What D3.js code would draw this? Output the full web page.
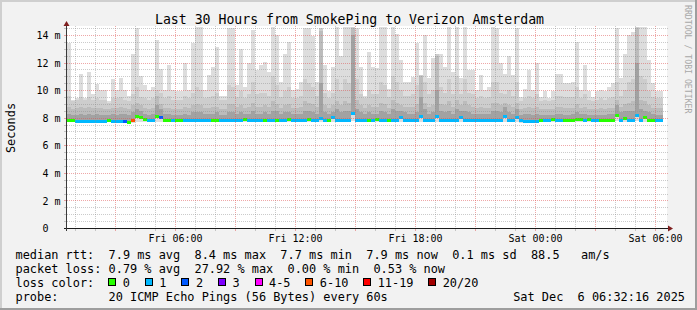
<!DOCTYPE html>
<html><head><meta charset="utf-8">
<script src="https://cdn.jsdelivr.net/npm/d3@7"></script>
<style>
html,body{margin:0;padding:0;background:#f2f2f2;}
svg{display:block;}
text{font-family:"DejaVu Sans Mono",monospace;white-space:pre;}
</style></head><body>
<svg id="c" width="697" height="310"></svg>
<script>
// ---------------- data ----------------
const title = "Last 30 Hours from SmokePing to Verizon Amsterdam";
const yLabel = "Seconds";
const watermark = "RRDTOOL / TOBI OETIKER";
const yTicks = [0, 2, 4, 6, 8, 10, 12, 14];
const xTickHours = ["2025-12-05T06:00Z","2025-12-05T12:00Z","2025-12-05T18:00Z","2025-12-06T00:00Z","2025-12-06T06:00Z"];
const rangeStart = "2025-12-05T00:36Z";
const rangeEnd = "2025-12-06T06:36Z";
const stepMinutes = 12;

const smokeTop = [13.4,9.3,9.45,11.2,9.45,11.3,9.7,10.45,10.0,10.0,
9.2,10.8,10.0,10.85,10.0,9.55,12.65,14.5,11.0,10.4,
10.0,10.25,13.6,11.5,10.0,11.8,10.0,9.9,9.95,11.95,
10.0,13.4,14.55,14.55,10.0,11.1,11.7,13.1,9.6,9.6,
14.5,14.5,10.4,13.0,10.25,11.95,14.35,11.45,11.8,12.05,
11.35,14.6,14.0,10.6,12.65,13.5,10.0,10.1,10.6,14.5,
14.5,13.9,10.6,14.5,11.8,9.9,11.7,14.6,12.5,14.6,
14.6,14.55,14.5,11.7,9.6,12.8,11.7,11.6,14.55,14.55,
10.1,14.55,14.1,12.2,10.6,10.6,10.95,13.4,11.1,14.0,
10.85,12.3,12.65,12.65,11.7,14.55,11.35,14.6,10.85,14.6,
11.45,11.45,10.0,11.1,10.0,10.25,14.55,14.5,11.95,11.2,
12.5,11.1,14.5,9.5,10.1,11.45,10.0,11.95,9.5,9.9,
9.4,9.9,11.2,11.2,10.5,10.5,10.6,13.5,10.0,11.8,
9.9,9.5,9.9,10.0,9.9,10.25,10.5,14.5,10.85,12.65,
14.0,14.25,14.55,14.55,14.55,12.2,10.5,9.9,9.9];
const smokeHi = [9.6,9.2,9.3,9.5,9.3,9.5,9.3,9.4,9.3,9.3,
9.1,9.4,9.4,9.5,9.3,9.2,9.7,10.2,9.5,9.4,
9.3,9.4,10.0,9.8,9.4,9.6,9.3,9.3,9.3,9.6,
9.4,9.8,10.2,10.0,9.4,9.5,9.6,9.8,9.3,9.3,
10.4,10.2,9.5,9.9,9.4,9.7,10.6,9.7,9.8,9.8,
9.6,11.0,10.4,9.5,9.9,10.2,9.4,9.4,9.6,10.8,
10.5,10.2,9.6,14.5,9.8,9.4,9.8,10.8,10.0,10.8,
10.5,14.55,10.8,9.7,9.4,10.0,9.7,9.7,10.6,10.4,
9.5,11.0,10.6,10.0,9.6,9.6,9.7,10.4,11.1,10.6,
9.7,10.0,12.65,10.2,9.8,10.8,9.7,11.0,9.7,10.8,
9.8,9.7,9.4,9.6,9.4,9.5,10.6,10.6,9.8,9.7,
10.0,9.6,10.6,9.2,9.4,9.6,9.4,9.7,9.2,9.3,
9.2,9.3,9.6,9.6,9.5,9.5,9.5,10.2,9.4,9.7,
9.3,9.2,9.3,9.4,9.3,9.4,9.5,10.6,9.6,10.0,
10.6,10.8,14.55,11.0,10.8,9.9,9.5,9.4,9.4];
const smokeMid = [8.8,8.6,8.7,8.8,8.7,8.8,8.7,8.7,8.7,8.6,
8.6,8.7,8.7,8.8,8.7,8.6,8.9,9.1,8.9,8.7,
8.6,8.7,9.6,9.0,8.7,8.7,8.6,8.6,8.6,8.8,
8.7,8.9,9.0,8.9,8.7,8.7,8.8,8.8,8.6,8.6,
9.0,9.0,8.8,8.9,8.7,8.8,9.1,8.8,8.8,8.9,
8.8,9.2,9.0,8.7,8.9,9.0,8.7,8.7,8.8,9.2,
9.1,9.0,8.8,14.3,8.9,8.7,8.9,9.2,8.9,9.2,
9.1,14.5,9.3,8.9,8.7,8.9,8.8,8.8,9.1,9.0,
8.7,9.3,9.1,8.9,8.8,8.8,8.8,9.0,11.0,9.1,
8.8,8.9,12.5,9.0,8.9,9.2,8.8,9.3,8.9,9.2,
8.9,8.8,8.7,8.8,8.7,8.7,9.1,9.1,8.9,9.1,
8.9,8.8,9.1,8.6,8.7,8.8,8.7,8.8,8.6,8.6,
8.6,8.6,8.8,8.8,8.7,8.7,8.7,9.0,8.7,8.8,
8.6,8.6,8.6,8.7,8.6,8.7,8.7,9.3,8.8,9.0,
9.1,9.2,14.5,9.3,9.2,8.9,8.7,8.7,8.7];
const smokeLow = [8.3,8.2,8.2,8.3,8.2,8.3,8.2,8.3,8.2,8.2,
8.2,8.3,8.2,8.3,8.3,8.2,8.4,8.6,8.5,8.3,
8.2,8.3,8.9,8.6,8.3,8.3,8.2,8.2,8.2,8.3,
8.2,8.4,8.4,8.4,8.3,8.3,8.3,8.4,8.2,8.2,
8.4,8.4,8.3,8.4,8.3,8.3,8.5,8.3,8.3,8.4,
8.3,8.5,8.5,8.3,8.4,8.4,8.3,8.3,8.3,8.5,
8.5,8.4,8.3,10.5,8.4,8.3,8.4,8.6,8.4,8.5,
8.5,14.0,8.6,8.4,8.3,8.4,8.3,8.3,8.5,8.4,
8.3,8.6,8.5,8.5,8.4,8.3,8.3,8.4,9.5,8.6,
8.3,8.4,10.0,8.5,8.4,8.5,8.3,8.6,8.5,8.5,
8.4,8.3,8.3,8.3,8.3,8.3,8.5,8.5,8.4,8.8,
8.4,8.3,8.6,8.2,8.3,8.3,8.2,8.3,8.2,8.2,
8.2,8.2,8.3,8.3,8.2,8.2,8.3,8.4,8.3,8.3,
8.2,8.2,8.2,8.2,8.2,8.3,8.3,8.9,8.4,8.5,
8.5,8.5,12.0,8.6,8.5,8.4,8.3,8.2,8.2];
const smokeMin = [7.66,7.66,7.65,7.64,7.64,7.65,7.65,7.64,7.64,7.65,
7.66,7.65,7.64,7.64,7.62,7.58,7.64,7.70,7.70,7.68,
7.67,7.67,7.72,7.70,7.67,7.67,7.66,7.67,7.67,7.66,
7.66,7.66,7.66,7.66,7.66,7.66,7.67,7.67,7.66,7.66,
7.66,7.66,7.66,7.66,7.70,7.66,7.66,7.66,7.66,7.67,
7.66,7.66,7.67,7.66,7.66,7.70,7.66,7.66,7.66,7.66,
7.70,7.66,7.66,7.70,7.66,7.67,7.70,7.66,7.66,7.66,
7.66,7.75,7.66,7.66,7.66,7.67,7.66,7.70,7.66,7.66,
7.67,7.66,7.66,7.70,7.66,7.66,7.66,7.66,7.72,7.66,
7.66,7.66,7.72,7.66,7.66,7.66,7.66,7.66,7.70,7.66,
7.66,7.66,7.66,7.66,7.66,7.66,7.66,7.66,7.66,7.72,
7.66,7.66,7.70,7.65,7.64,7.64,7.64,7.64,7.66,7.66,
7.66,7.70,7.66,7.66,7.66,7.66,7.66,7.70,7.70,7.66,
7.68,7.66,7.66,7.66,7.66,7.66,7.66,7.75,7.66,7.72,
7.66,7.66,7.74,7.66,7.70,7.67,7.67,7.66,7.66];
const median = [7.80,7.80,7.79,7.78,7.78,7.78,7.79,7.78,7.78,7.79,
7.80,7.79,7.78,7.78,7.76,7.70,7.80,8.10,8.02,7.93,
7.82,7.82,8.15,8.06,7.82,7.82,7.81,7.82,7.82,7.81,
7.81,7.80,7.80,7.80,7.81,7.80,7.82,7.82,7.80,7.80,
7.80,7.82,7.80,7.81,7.88,7.81,7.80,7.80,7.80,7.82,
7.81,7.81,7.82,7.81,7.81,7.92,7.81,7.80,7.81,7.81,
7.92,7.81,7.80,7.98,7.80,7.82,8.05,7.81,7.81,7.80,
7.80,8.36,7.81,7.81,7.80,7.82,7.81,7.92,7.81,7.81,
7.82,7.81,7.81,8.02,7.81,7.80,7.80,7.81,8.12,7.81,
7.80,7.81,8.12,7.81,7.80,7.80,7.81,7.81,8.02,7.81,
7.80,7.80,7.80,7.81,7.80,7.80,7.80,7.81,7.80,8.12,
7.80,7.80,8.02,7.80,7.79,7.79,7.79,7.79,7.80,7.80,
7.80,7.92,7.81,7.81,7.80,7.80,7.80,7.92,7.92,7.81,
7.88,7.81,7.80,7.80,7.80,7.80,7.80,8.22,7.81,7.97,
7.81,7.81,8.19,7.81,8.02,7.82,7.82,7.80,7.80];
const lossCount = [0,0,1,1,1,1,1,1,1,1,
0,1,1,1,2,0,8,0,0,0,
1,1,0,2,0,0,1,0,0,1,
1,1,1,1,1,1,0,0,1,1,
1,1,1,1,0,1,1,1,1,0,
1,1,0,1,1,0,1,1,1,1,
0,1,1,1,1,0,1,1,1,1,
1,1,1,1,1,0,1,0,1,1,
0,1,1,1,1,1,1,1,1,1,
1,1,1,1,1,1,1,1,1,1,
1,1,1,1,1,1,1,1,1,1,
1,1,1,1,1,1,1,1,0,1,
1,0,1,1,0,0,0,0,0,1,
0,1,1,0,0,0,0,0,1,0,
1,1,1,1,0,0,0,1,1];

const lossLabels = ["0","1","2","3","4-5","6-10","11-19","20/20"];
const lossColors = ["#26ff00","#00b8ff","#0059ff","#7e00ff","#ff00ff","#ff5500","#ff0000","#a10000"];
const lossUpper = [0,1,2,3,5,10,19,20];

const rttLine = ["median rtt:","7.9 ms avg","8.4 ms max","7.7 ms min","7.9 ms now","0.1 ms sd","88.5   am/s"];
const lossLine = ["packet loss:","0.79 % avg","27.92 % max","0.00 % min","0.53 % now"];
const probeLine = ["probe:","20 ICMP Echo Pings (56 Bytes) every 60s"];
const stampText = "Sat Dec  6 06:32:16 2025";

// ---------------- drawing ----------------
const W = 697, H = 310;
const L = 67, R = 667, T = 26, B = 228;
const svg = d3.select("#c");

svg.append("rect").attr("x",0).attr("y",0).attr("width",W).attr("height",H).attr("fill","#f2f2f2");
svg.append("rect").attr("x",0).attr("y",0).attr("width",W).attr("height",2).attr("fill","#cfcfcf");
svg.append("rect").attr("x",0).attr("y",0).attr("width",2).attr("height",H).attr("fill","#cfcfcf");
svg.append("rect").attr("x",0).attr("y",H-2).attr("width",W).attr("height",2).attr("fill","#9e9e9e");
svg.append("rect").attr("x",W-2).attr("y",0).attr("width",2).attr("height",H).attr("fill","#9e9e9e");

const x = d3.scaleUtc().domain([new Date(rangeStart), new Date(rangeEnd)]).range([L, R]);
const y = d3.scaleLinear().domain([0, 14.65]).range([B, T]);

svg.append("rect").attr("x",L).attr("y",T).attr("width",R-L).attr("height",B-T).attr("fill","#ffffff");

const t0 = new Date(rangeStart).getTime();
const colT = i => new Date(t0 + i*stepMinutes*60000);
const g = svg.append("g").attr("shape-rendering","crispEdges");
function band(i, lo, hi, color){
  const x0 = Math.round(x(colT(i))), x1 = Math.round(x(colT(i+1)));
  const y0 = Math.round(y(hi)), y1 = Math.round(y(lo));
  if (y1 - y0 <= 0) return;
  g.append("rect").attr("x",x0).attr("y",y0).attr("width",x1-x0).attr("height",y1-y0).attr("fill",color);
}
smokeTop.forEach((v,i) => {
  band(i, smokeMin[i], v, "#dddddd");
  band(i, median[i], Math.min(smokeHi[i], v), "#cdcdcd");
  band(i, median[i], Math.min(smokeMid[i], v), "#bcbcbc");
  band(i, median[i], Math.min(smokeLow[i], v), "#a2a2a2");
});
median.forEach((m,i) => {
  const x0 = Math.round(x(colT(i))), x1 = Math.round(x(colT(i+1)));
  const ci = lossUpper.findIndex(u => lossCount[i] <= u);
  g.append("rect").attr("x",x0).attr("y",Math.round(y(m))-1).attr("width",x1-x0).attr("height",3)
    .attr("fill",lossColors[ci]);
});

// grid
const grid = svg.append("g").attr("shape-rendering","crispEdges");
const hours = d3.utcHour.range(new Date(rangeStart), new Date(rangeEnd));
hours.forEach(h => {
  const xx = Math.round(x(h)) + 0.5;
  const major = h.getUTCHours() % 3 === 0;
  const col = major ? "rgba(222,80,80,0.5)" : "rgba(140,140,140,0.45)";
  grid.append("line").attr("x1",xx).attr("x2",xx).attr("y1",T).attr("y2",B)
    .attr("stroke",col).attr("stroke-dasharray","1,1");
  grid.append("line").attr("x1",xx).attr("x2",xx).attr("y1",B).attr("y2",B+3).attr("stroke",col);
});
d3.range(1, 30).map(k => k*0.5).forEach(v => {
  const yy = Math.round(y(v)) + 0.5;
  const major = (v % 2 === 0);
  const col = major ? "rgba(222,80,80,0.5)" : "rgba(140,140,140,0.45)";
  grid.append("line").attr("x1",L).attr("x2",R+2).attr("y1",yy).attr("y2",yy)
    .attr("stroke",col).attr("stroke-dasharray","1,1");
  grid.append("line").attr("x1",L-3).attr("x2",L).attr("y1",yy).attr("y2",yy).attr("stroke",col);
});

// axes lines + arrows
svg.append("line").attr("x1",L-3).attr("x2",R+3).attr("y1",B+0.5).attr("y2",B+0.5)
  .attr("stroke","#1a1a1a").attr("shape-rendering","crispEdges");
svg.append("line").attr("x1",L-0.5).attr("x2",L-0.5).attr("y1",B+3).attr("y2",T-3)
  .attr("stroke","#3a3a3a").attr("shape-rendering","crispEdges");
svg.append("path").attr("d",`M${R+1},${B-2.5} L${R+6},${B+0.5} L${R+1},${B+3.5} Z`).attr("fill","#7f1f1f");
svg.append("path").attr("d",`M${L-3.5},${T} L${L-0.5},${T-5} L${L+2.5},${T} Z`).attr("fill","#7f1f1f");

const xa = svg.append("g").attr("transform",`translate(0,${B})`)
  .call(d3.axisBottom(x).tickValues(xTickHours.map(s => new Date(s))).tickSize(0)
    .tickFormat(d3.utcFormat("%a %H:%M")));
xa.select(".domain").remove();
xa.selectAll("text").attr("y",13.5).attr("dy",0).attr("font-size","10px")
  .attr("font-family","DejaVu Sans Mono").attr("fill","#000");

const ya = svg.append("g").attr("transform",`translate(${L},0)`)
  .call(d3.axisLeft(y).tickValues(yTicks).tickSize(0)
    .tickFormat(d => d === 0 ? "0\u00a0\u00a0" : d + "\u00a0m"));
ya.select(".domain").remove();
ya.selectAll("text").attr("x",-6.5).attr("dy","0.36em").attr("font-size","10px")
  .attr("font-family","DejaVu Sans Mono").attr("fill","#000");

svg.append("text").attr("x",W/2+1).attr("y",23.5).attr("text-anchor","middle")
  .attr("font-size","13.2px").attr("fill","#000").text(title);
svg.append("text").attr("transform","translate(15.3,128) rotate(-90)").attr("text-anchor","middle")
  .attr("font-size","11.9px").attr("fill","#000").text(yLabel);
svg.append("text").attr("transform","translate(684.8,5) rotate(90)")
  .attr("font-size","8.2px").attr("fill","#a8a8a8").text(watermark);

// legend
const lg = svg.append("g").attr("font-size","11.9px").attr("fill","#000");
function row(parts, yb){
  let s = parts[0].padEnd(13, " ");
  for (let k=1;k<parts.length;k++) s += parts[k] + (k < parts.length-1 ? "  " : "");
  lg.append("text").attr("x",15.5).attr("y",yb).text(s);
}
row(rttLine, 258.5);
row(lossLine, 272.5);
lg.append("text").attr("x",15.5).attr("y",286.5).text("loss color:");
let bx = 108.3;
lossLabels.forEach((lab,k) => {
  lg.append("rect").attr("x",Math.round(bx)+0.5).attr("y",278.5).attr("width",7).attr("height",7)
    .attr("fill",lossColors[k]).attr("stroke","#000").attr("stroke-width",1).attr("shape-rendering","crispEdges");
  lg.append("text").attr("x",bx+14.5).attr("y",286.5).text(lab);
  bx += (lab.length + 4.15) * 7.1;
});
lg.append("text").attr("x",15.5).attr("y",300.5).text(probeLine[0].padEnd(13," ") + probeLine[1]);
lg.append("text").attr("x",685).attr("y",300.5).attr("text-anchor","end").text(stampText);
</script>
</body></html>
